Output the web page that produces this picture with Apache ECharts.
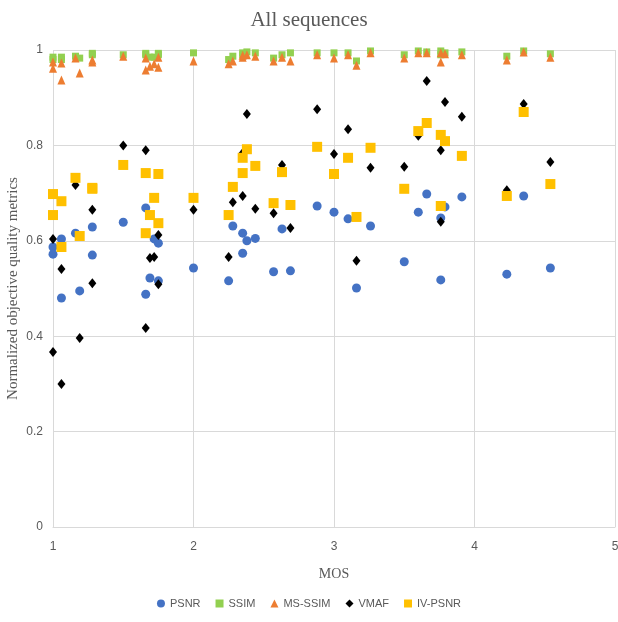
<!DOCTYPE html>
<html>
<head>
<meta charset="utf-8">
<script src="https://cdn.jsdelivr.net/npm/echarts@6/dist/echarts.min.js"></script>
<style>
html,body{margin:0;padding:0;background:#fff;}
#chart{width:618px;height:622px;}
</style>
</head>
<body>
<div id="chart"></div>
<script>
// MOS per test sequence
const mos    = [1.00,1.00,1.06,1.06,1.16,1.19,1.28,1.28,1.50,1.66,1.66,1.69,1.72,1.75,1.75,2.00,2.25,2.28,2.35,2.35,2.38,2.44,2.57,2.63,2.69,2.88,3.00,3.10,3.16,3.26,3.50,3.60,3.66,3.76,3.76,3.79,3.91,4.23,4.35,4.54];
const psnr   = [0.587,0.572,0.604,0.480,0.616,0.495,0.629,0.570,0.639,0.669,0.488,0.522,0.604,0.595,0.516,0.543,0.516,0.631,0.616,0.574,0.600,0.605,0.535,0.625,0.537,0.673,0.660,0.646,0.501,0.631,0.556,0.660,0.698,0.648,0.518,0.671,0.692,0.530,0.694,0.543];
const ssim   = [0.985,0.980,0.985,0.980,0.987,0.983,0.993,0.990,0.990,0.993,0.990,0.985,0.985,0.993,0.990,0.994,0.980,0.987,0.994,0.990,0.996,0.994,0.983,0.990,0.994,0.994,0.994,0.994,0.977,0.998,0.990,0.998,0.996,0.998,0.990,0.994,0.996,0.987,0.998,0.992];
const msssim = [0.975,0.962,0.973,0.937,0.983,0.952,0.979,0.975,0.987,0.983,0.958,0.966,0.971,0.985,0.964,0.977,0.971,0.977,0.985,0.989,0.990,0.987,0.977,0.985,0.977,0.990,0.983,0.990,0.968,0.994,0.983,0.994,0.994,0.994,0.975,0.992,0.990,0.979,0.996,0.985];
const vmaf   = [0.604,0.367,0.541,0.300,0.717,0.396,0.665,0.511,0.800,0.790,0.417,0.564,0.566,0.612,0.509,0.665,0.566,0.681,0.784,0.694,0.866,0.667,0.658,0.759,0.627,0.876,0.782,0.834,0.558,0.753,0.755,0.820,0.935,0.790,0.640,0.891,0.860,0.706,0.887,0.765];
const ivpsnr = [0.698,0.654,0.683,0.587,0.732,0.610,0.711,0.709,0.759,0.742,0.616,0.654,0.690,0.740,0.637,0.690,0.654,0.713,0.774,0.742,0.792,0.757,0.679,0.744,0.675,0.797,0.740,0.774,0.650,0.795,0.709,0.830,0.847,0.822,0.673,0.809,0.778,0.694,0.870,0.719];

const seriesNames = ['PSNR','SSIM','MS-SSIM','VMAF','IV-PSNR'];
const xTicks = [1,2,3,4,5];
const yTicks = [0,0.2,0.4,0.6,0.8,1];

const pair = arr => mos.map((m,i)=>[m,arr[i]]);

const chart = echarts.init(document.getElementById('chart'), null, {renderer:'canvas'});
const serif = '"Liberation Serif","DejaVu Serif",serif';
const sans = '"Liberation Sans","DejaVu Sans",sans-serif';
chart.setOption({
  animation:false,
  backgroundColor:'#ffffff',
  title:{
    text:'All sequences', left:'center', top:5,
    textStyle:{fontFamily:serif,fontSize:21,fontWeight:'normal',color:'#595959'}
  },
  legend:{
    bottom:8, left:'center', itemGap:15, itemWidth:8, itemHeight:8,
    textStyle:{fontFamily:sans,fontSize:11,color:'#595959'},
    data:[
      {name:'PSNR',icon:'circle'},
      {name:'SSIM',icon:'rect'},
      {name:'MS-SSIM',icon:'triangle'},
      {name:'VMAF',icon:'diamond'},
      {name:'IV-PSNR',icon:'rect'}
    ]
  },
  grid:{left:53,right:3,top:50,bottom:95,containLabel:false,outerBoundsMode:'none'},
  xAxis:{
    type:'value', min:xTicks[0], max:xTicks[xTicks.length-1], interval:1,
    name:'MOS', nameLocation:'middle', nameGap:40, nameMoveOverlap:false,
    nameTextStyle:{fontFamily:serif,fontSize:14,color:'#595959'},
    axisLine:{show:true,lineStyle:{color:'#d9d9d9'}},
    axisTick:{show:false},
    axisLabel:{fontFamily:sans,fontSize:12,color:'#595959',margin:14},
    splitLine:{show:true,lineStyle:{color:'#d9d9d9'}}
  },
  yAxis:{
    type:'value', min:yTicks[0], max:yTicks[yTicks.length-1], interval:0.2,
    name:'Normalized objective quality metrics', nameLocation:'middle', nameGap:32, nameMoveOverlap:false,
    nameTextStyle:{fontFamily:serif,fontSize:15,color:'#595959'},
    axisLine:{show:false},
    axisTick:{show:false},
    axisLabel:{fontFamily:sans,fontSize:12,color:'#595959',margin:10},
    splitLine:{show:true,lineStyle:{color:'#d9d9d9'}}
  },
  series:[
    {name:'PSNR',type:'scatter',symbol:'circle',symbolSize:9,data:pair(psnr),itemStyle:{color:'#4472C4',opacity:1}},
    {name:'SSIM',type:'scatter',symbol:'rect',symbolSize:7,data:pair(ssim),itemStyle:{color:'#92D050',opacity:1}},
    {name:'MS-SSIM',type:'scatter',symbol:'triangle',symbolSize:[8,9],data:pair(msssim),itemStyle:{color:'#ED7D31',opacity:1}},
    {name:'VMAF',type:'scatter',symbol:'diamond',symbolSize:[8,10],data:pair(vmaf),itemStyle:{color:'#000000',opacity:1}},
    {name:'IV-PSNR',type:'scatter',symbol:'rect',symbolSize:10,data:pair(ivpsnr),itemStyle:{color:'#FFC000',opacity:1}}
  ]
});
</script>
</body>
</html>
